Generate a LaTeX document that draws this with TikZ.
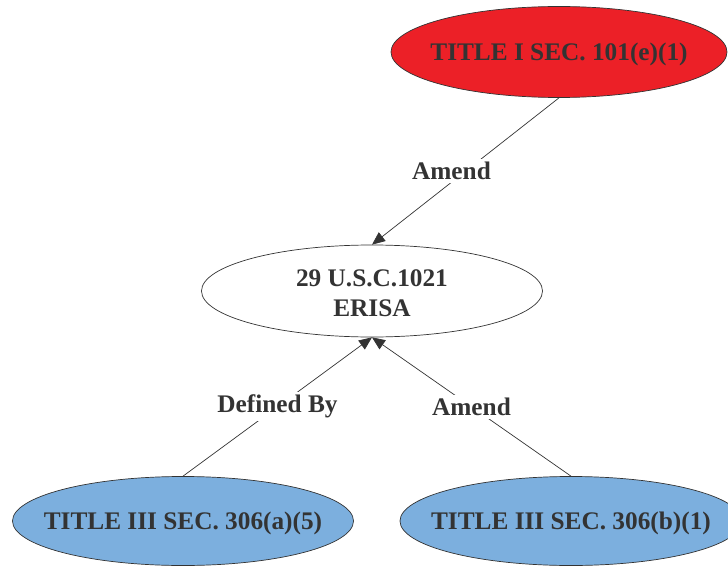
\documentclass[tikz,border=0pt]{standalone}
\usepackage{fontspec}
\setmainfont{Liberation Serif}
\usetikzlibrary{shapes.geometric,arrows.meta}
\definecolor{nodered}{RGB}{236,32,39}
\definecolor{nodeblue}{RGB}{124,175,222}
\definecolor{inkgray}{RGB}{51,51,51}
\tikzset{
  ell/.style={ellipse, draw=inkgray, line width=0.7pt, inner sep=0pt,
    minimum width=340pt, minimum height=91pt},
  txt/.style={text=inkgray, inner sep=0pt, align=center, yshift=-2.5pt,
    font=\fontsize{25.3}{30}\selectfont\bfseries},
  conn/.style={draw=inkgray, line width=0.7pt},
  tip/.style={-{Triangle[length=13pt,width=11pt]}},
  lbl/.style={fill=white, text=inkgray, inner sep=3pt,
    font=\fontsize{25.3}{28}\selectfont\bfseries}
}
\begin{document}
\begin{tikzpicture}[x=1pt,y=-1pt]
\useasboundingbox (0,0) rectangle (728,567);
\node[ell, fill=nodered, minimum width=336pt] (t1) at (559,52) {};
\node[txt] (t1t) at (t1.center) {TITLE I SEC. 101(e)(1)};
\node[ell, fill=white, minimum width=341pt, minimum height=92pt] (er) at (372,291) {};
\node[txt] (ert) at (er.center) {29 U.S.C.1021\\ERISA};
\node[ell, fill=nodeblue, minimum width=341pt, minimum height=89pt] (b1) at (183,521) {};
\node[txt] (b1t) at (b1.center) {TITLE III SEC. 306(a)(5)};
\node[ell, fill=nodeblue, minimum width=342pt, minimum height=89pt] (b2) at (571,521) {};
\node[txt] (b2t) at (b2.center) {TITLE III SEC. 306(b)(1)};
\draw[conn, tip] (t1.south) -- node[lbl, xshift=-14pt] (l1) {Amend} (er.north);
\draw[conn, tip] (b1.north) -- node[lbl] (l2) {Defined By} (er.south);
\draw[conn, tip] (b2.north) -- node[lbl] (l3) {Amend} (er.south);
\end{tikzpicture}
\end{document}
